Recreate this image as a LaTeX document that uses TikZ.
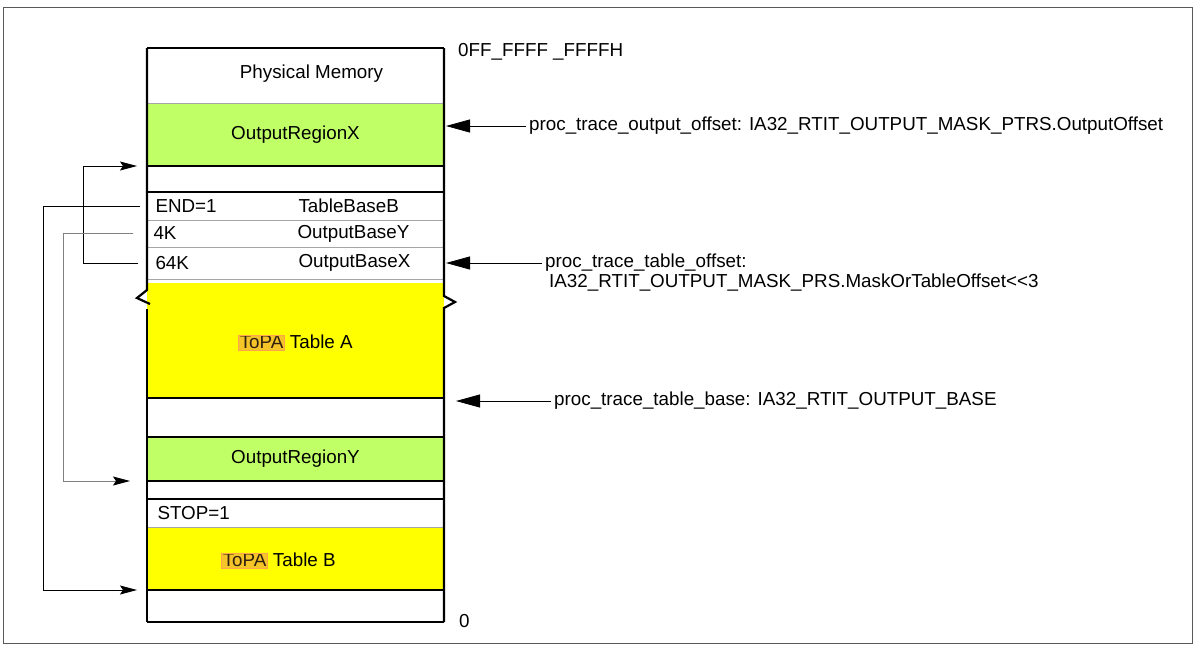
\documentclass[tikz,border=0pt]{standalone}
\usepackage{fontspec}
\setmainfont{Liberation Sans}
\usetikzlibrary{positioning,arrows.meta}
\definecolor{regiongreen}{RGB}{192,255,102}
\definecolor{tableyellow}{RGB}{255,255,0}
\definecolor{topahl}{RGB}{244,196,40}
\newcommand{\topa}{{\setlength{\fboxsep}{1pt}\fcolorbox{orange!70}{topahl}{\color{black!75!brown}ToPA}}}
\tikzset{
  mem/.style={minimum width=297pt,minimum height=#1,inner sep=0pt,outer sep=0pt},
  divider/.style={line width=2.2pt},
  rowline/.style={line width=0.8pt,gray!70},
  link/.style={line width=0.8pt,-{Stealth[length=17pt,width=9pt,inset=3pt,color=black]}},
  bigtip/.style={line width=0.8pt,-{Triangle[length=24pt,width=13pt]},shorten >=2pt},
  lbl/.style={anchor=west,inner sep=3pt}
}
\begin{document}
\begin{tikzpicture}[x=1pt,y=-1pt,font=\fontsize{18.8}{22}\selectfont]
  \useasboundingbox (0,0) rectangle (1201,648);
  \draw[gray!70!black,line width=1pt] (3,7) rectangle (1192,643);

  % memory rows, top to bottom
  \node[mem=55pt,anchor=north west] (phys) at (147,48) {};
  \node (physname) at ([xshift=16pt,yshift=2pt]phys.center) {Physical Memory};
  \node[mem=63pt,fill=regiongreen,below=0pt of phys] (regx) {OutputRegionX};
  \node[mem=26pt,below=0pt of regx] (gapa) {};
  \node[mem=28pt,below=0pt of gapa] (endrow) {};
  \node[mem=27pt,below=0pt of endrow] (row4k) {};
  \node[mem=32pt,below=0pt of row4k] (row64k) {};
  \node[mem=115pt,fill=tableyellow,below=4pt of row64k] (tabla) {};
  \node (tablaname) at ([yshift=-2pt]tabla.center) {\topa{} Table A};
  \node[mem=39pt,below=0pt of tabla] (gapb) {};
  \node[mem=44pt,fill=regiongreen,below=0pt of gapb] (regy) {OutputRegionY};
  \node[mem=18pt,below=0pt of regy] (gapc) {};
  \node[mem=28pt,below=0pt of gapc] (stoprow) {};
  \node[mem=63pt,fill=tableyellow,below=0pt of stoprow] (tablb) {};
  \node (tablbname) at ([xshift=-17pt,yshift=-2pt]tablb.center) {\topa{} Table B};
  \node[mem=32pt,below=0pt of tablb] (gapd) {};

  % table entries
  \node[anchor=west] (endflag) at ([xshift=5pt]endrow.west) {END=1};
  \node[anchor=west] (endbase) at ([xshift=148pt]endrow.west) {TableBaseB};
  \node[anchor=west] (size4k) at ([xshift=3pt]row4k.west) {4K};
  \node[anchor=west] (basey) at ([xshift=147pt]row4k.west) {OutputBaseY};
  \node[anchor=west] (size64k) at ([xshift=5pt]row64k.west) {64K};
  \node[anchor=west] (basex) at ([xshift=148pt]row64k.west) {OutputBaseX};
  \node[anchor=west] (stopflag) at ([xshift=7pt]stoprow.west) {STOP=1};

  % lines of the memory column
  \foreach \n in {phys,endrow,row4k,row64k,stoprow}
    \draw[rowline] (\n.south west) -- (\n.south east);
  \foreach \n in {regx,gapa,tabla,gapb,regy,gapc,tablb}
    \draw[divider] (\n.south west) -- (\n.south east);
  \draw[divider] (phys.north west) -- (phys.north east);
  \draw[divider] (gapd.south west) -- (gapd.south east);
  \draw[divider] (phys.north west) -- (147,290) -- (137,298) -- (150,304);
  \draw[divider] (147,309) -- (gapd.south west);
  \draw[divider] (phys.north east) -- (444,296) -- (455,302) -- (444,308) -- (gapd.south east);

  % addresses
  \node[lbl] (topaddr) at (455,52) {0FF\_FFFF \_FFFFH};
  \node[lbl] (botaddr) at (456,621) {0};

  % registers
  \node[lbl] (outoff) at (526,126) {proc\_trace\_output\_offset: IA32\_RTIT\_OUTPUT\_MASK\_PTRS.OutputOffset};
  \draw[bigtip] (outoff.west) -- (outoff.west -| regx.east);
  \node[lbl] (tabofs) at (542,263) {proc\_trace\_table\_offset:};
  \node[lbl] (tabofsmask) at (546,283) {IA32\_RTIT\_OUTPUT\_MASK\_PRS.MaskOrTableOffset<{}<3};
  \draw[bigtip] (tabofs.west) -- (tabofs.west -| row64k.east);
  \node[lbl] (tabbase) at (551,401) {proc\_trace\_table\_base: IA32\_RTIT\_OUTPUT\_BASE};
  \draw[bigtip,shorten >=12pt] (tabbase.west) -- (tabbase.west -| gapb.east);

  % table entry pointers
  \draw[link] ([xshift=-9pt]row64k.west) -- ++(-55pt,0) |- ([xshift=-10pt]regx.south west);
  \draw[link] ([xshift=-7pt]endrow.west) -- ++(-97pt,0) |- ([xshift=-10pt]tablb.south west);
  \draw[link,gray] ([xshift=-14pt]row4k.west) -- ++(-70pt,0) |- ([xshift=-17pt]regy.south west);
\end{tikzpicture}
\end{document}
